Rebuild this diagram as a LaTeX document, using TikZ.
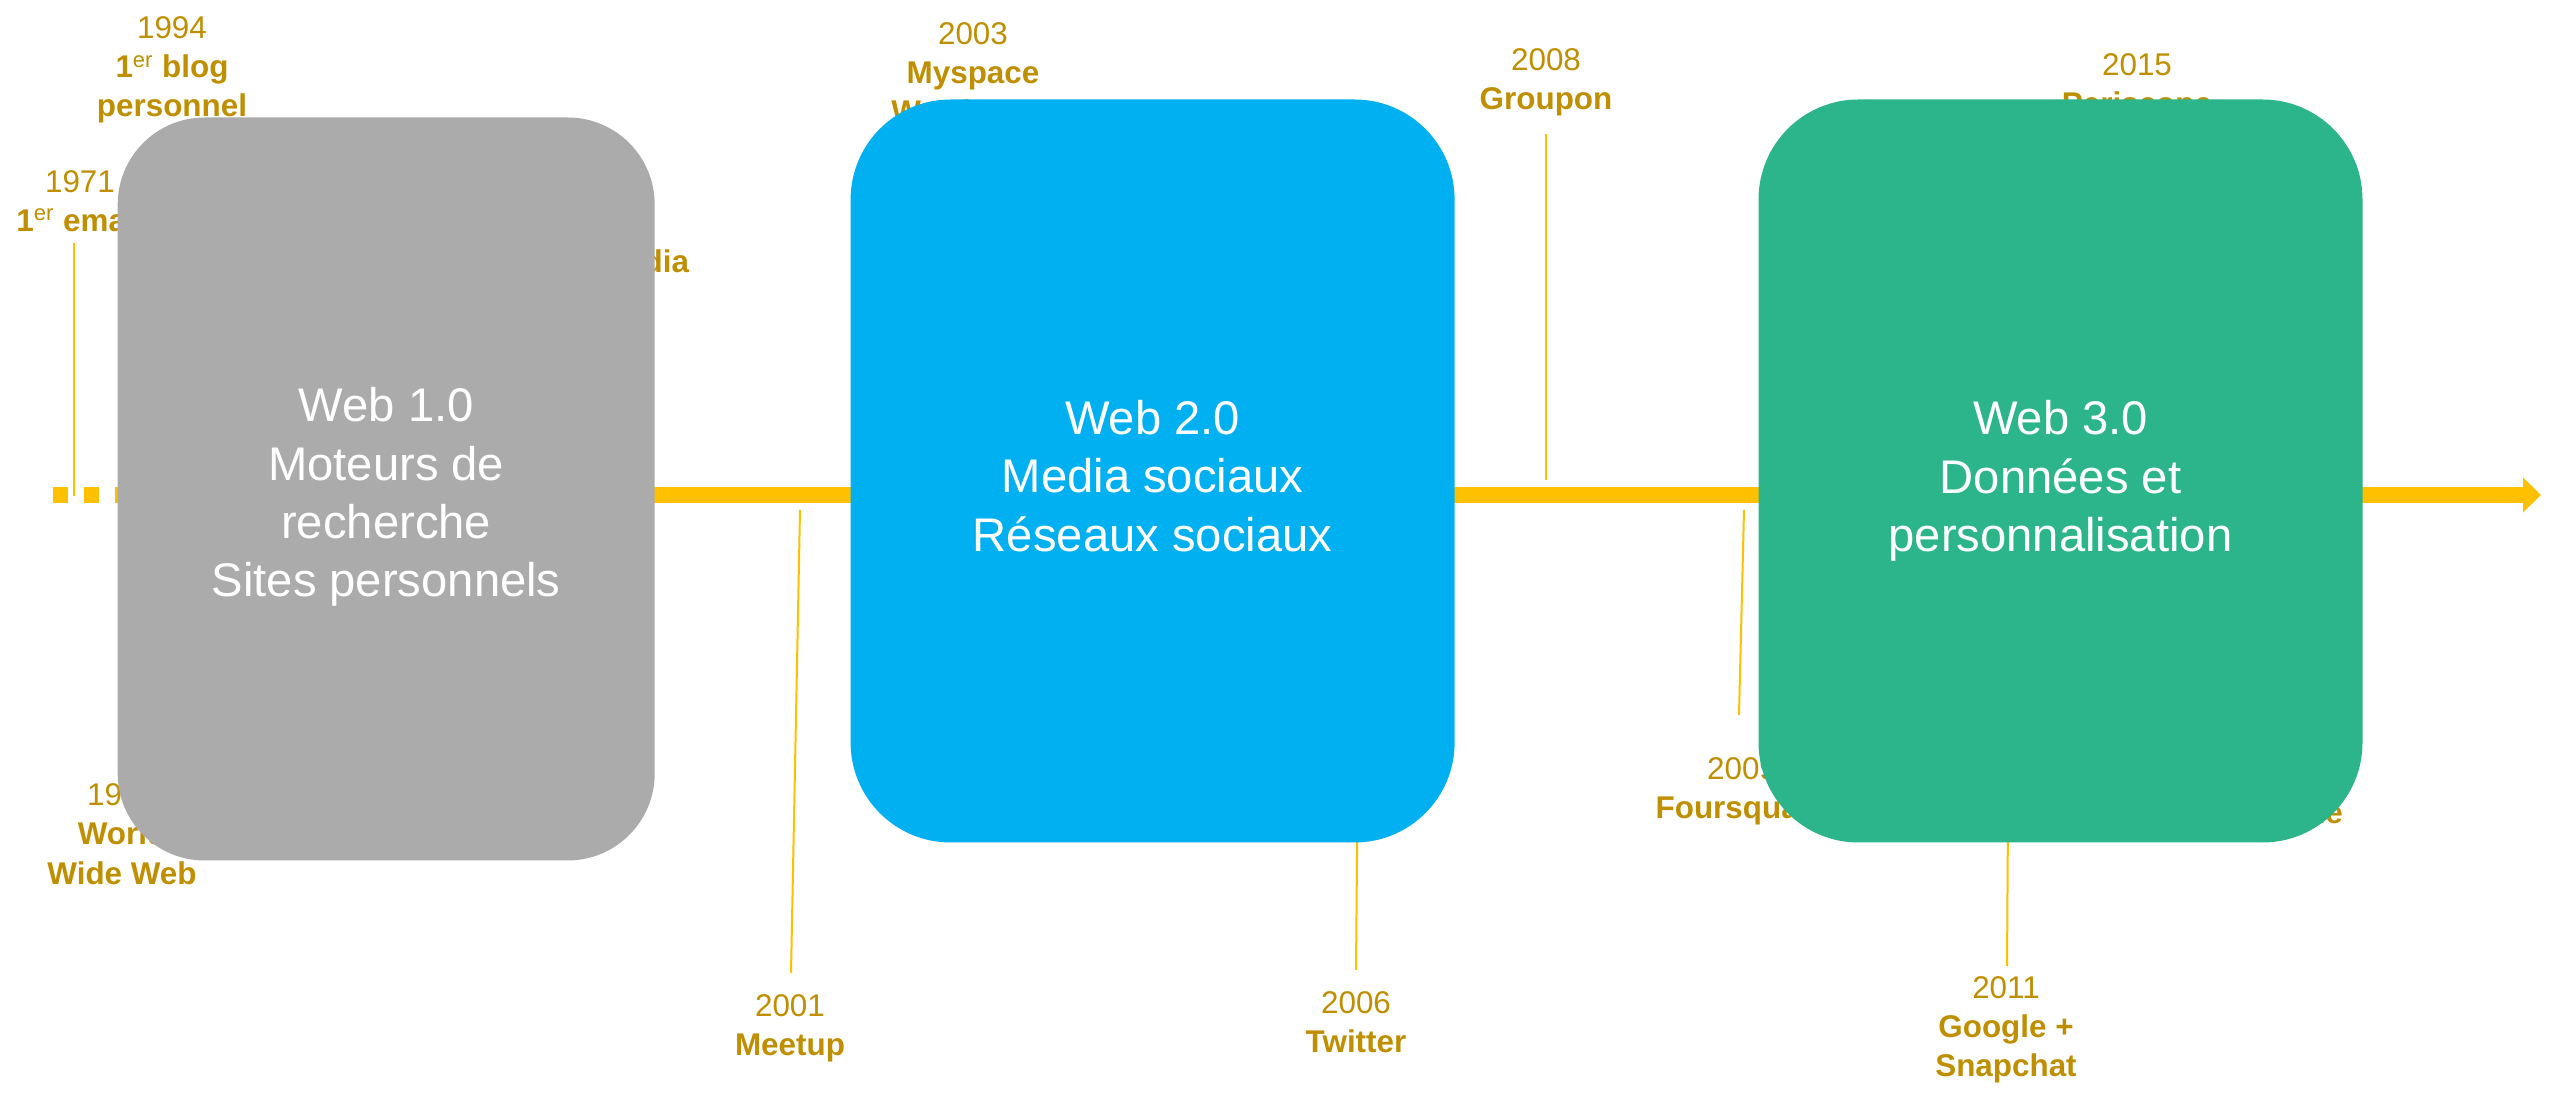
\documentclass[tikz,border=0pt]{standalone}
\usepackage{fontspec}
\setmainfont{Liberation Sans}
\usetikzlibrary{arrows.meta}
\definecolor{tlyellow}{HTML}{FFC000}
\definecolor{lblgold}{HTML}{BF8F00}
\definecolor{boxgray}{HTML}{ABABAB}
\definecolor{boxblue}{HTML}{00B0F0}
\definecolor{boxgreen}{HTML}{2CB58B}
\begin{document}
\begin{tikzpicture}[x=0.5pt,y=-0.5pt,
  evlabel/.style={text=lblgold, font=\fontsize{15.7pt}{19.6pt}\selectfont, align=center, inner sep=0pt},
  erabox/.style={inner sep=0pt, rounded corners=#1, minimum height=371.5pt},
  eratext/.style={text=white, font=\fontsize{23.6pt}{29.2pt}\selectfont, align=center, inner sep=0pt},
  tick/.style={draw=tlyellow, line width=1pt},
  timeline/.style={draw=tlyellow, line width=8pt}]
\useasboundingbox[fill=white] (0,0) rectangle (2560,1095);

% timeline
\coordinate (tl-a) at (53,495);
\coordinate (tl-b) at (116,495);
\coordinate (tl-end) at (2541,495);
\draw[timeline, dash pattern=on 7.5pt off 8pt] (tl-a) -- (tl-b);
\draw[timeline, -{Triangle[length=9pt,width=17pt]}] (tl-b) -- (tl-end);

% connector end points
\coordinate (c-email-top) at (74,243);  \coordinate (c-email-bot) at (74,496);
\coordinate (c-meet-top) at (800,510);  \coordinate (c-meet-bot) at (791,973);
\coordinate (c-grp-top) at (1546,134);  \coordinate (c-grp-bot) at (1546,480);
\coordinate (c-tw-top) at (1360,510);   \coordinate (c-tw-bot) at (1356,970);
\coordinate (c-fsq-top) at (1744,510);  \coordinate (c-fsq-bot) at (1739,715);
\coordinate (c-goo-top) at (2010,510);  \coordinate (c-goo-bot) at (2007,966);

\draw[tick] (c-email-bot) -- (c-email-top);
\draw[tick] (c-meet-top) -- (c-meet-bot);
\draw[tick] (c-grp-bot) -- (c-grp-top);
\draw[tick] (c-tw-top) -- (c-tw-bot);
\draw[tick] (c-fsq-top) -- (c-fsq-bot);
\draw[tick] (c-goo-top) -- (c-goo-bot);

% event labels
\node[evlabel] (blog) at (172,70) {1994\\\textbf{1\textsuperscript{\mdseries er} blog}\\\textbf{personnel}};
\node[evlabel] (email) at (80,201) {1971\\\textbf{1\textsuperscript{\mdseries er} email}};
\node[evlabel] (wiki) at (616,245) {2001\\\textbf{Wikipedia}};
\node[evlabel] (www) at (122,834) {1991\\\textbf{World}\\\textbf{Wide Web}};
\node[evlabel] (myspace) at (973,76) {2003\\\textbf{Myspace}\\\textbf{Wordpress}};
\node[evlabel] (groupon) at (1546,82) {2008\\\textbf{Groupon}};
\node[evlabel] (periscope) at (2137,87) {2015\\\textbf{Periscope}};
\node[evlabel] (vine) at (2310,793) {2013\\\textbf{Vine}};
\node[evlabel] (foursq) at (1742,791) {2009\\\textbf{Foursquare}};
\node[evlabel] (twitter) at (1356,1022) {2006\\\textbf{Twitter}};
\node[evlabel] (google) at (2006,1030) {2011\\\textbf{Google +}\\\textbf{Snapchat}};
\node[evlabel] (meetup) at (790,1028) {2001\\\textbf{Meetup}};

% era boxes
\node[erabox=43.5pt, fill=boxgray, minimum width=268.5pt] (web1) at (386.2,489) {};
\node[erabox=50pt, fill=boxblue, minimum width=302pt] (web2) at (1152.6,471) {};
\node[erabox=50pt, fill=boxgreen, minimum width=302pt] (web3) at (2060.5,471) {};

\node[eratext] (web1-t) at ([yshift=-4pt]web1.center)
  {Web 1.0\\Moteurs de\\recherche\\Sites personnels};
\node[eratext] (web2-t) at ([yshift=-2.5pt]web2.center)
  {Web 2.0\\Media sociaux\\Réseaux sociaux};
\node[eratext] (web3-t) at ([yshift=-5pt]web3.center)
  {Web 3.0\\Données et\\personnalisation};
\end{tikzpicture}
\end{document}
